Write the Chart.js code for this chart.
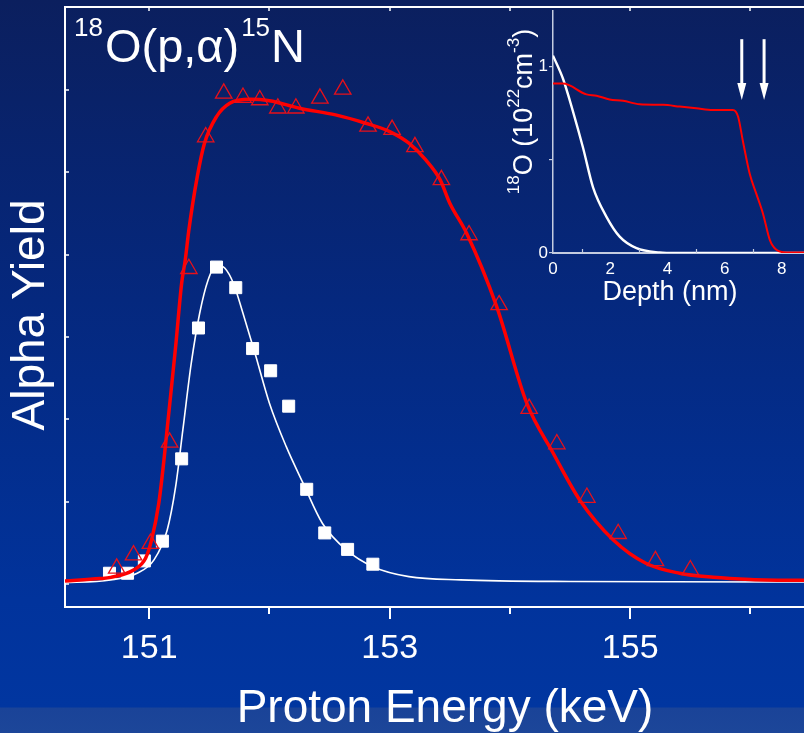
<!DOCTYPE html>
<html>
<head>
<meta charset="utf-8">
<title>18O(p,α)15N alpha yield</title>
<script src="https://cdn.jsdelivr.net/npm/chart.js@4.4.0/dist/chart.umd.min.js"></script>
<style>
  html, body { margin: 0; padding: 0; overflow: hidden; }
  #wrap {
    position: relative; width: 804px; height: 733px; overflow: hidden;
    background: linear-gradient(to bottom, #0b1f5e 0px, #05287e 300px, #01339c 600px, #0136a0 707px, #1a4398 708px, #1c4699 733px);
  }
  #mainChart { position: absolute; left: 0; top: 0; }
  #insetChart { position: absolute; left: 480px; top: 0; }
</style>
</head>
<body>
<div id="wrap">
  <canvas id="mainChart" width="825" height="733"></canvas>
  <canvas id="insetChart" width="345" height="320"></canvas>
</div>
<script>
// ---- main panel data (proton energy in keV, alpha yield in arb. units) ----
const triangleE = [150.73, 150.87, 151.01, 151.17, 151.33, 151.47, 151.62, 151.78, 151.92, 152.07, 152.22, 152.42, 152.61,
                   152.82, 153.02, 153.21, 153.43, 153.66, 153.91, 154.16, 154.39, 154.64, 154.90, 155.21, 155.50];
const triangleY = [0.19, 0.35, 0.49, 1.72, 3.83, 5.43, 5.96, 5.91, 5.88, 5.78, 5.78, 5.90, 6.01,
                   5.56, 5.52, 5.31, 4.91, 4.24, 3.39, 2.13, 1.70, 1.05, 0.61, 0.28, 0.17];

const squareE = [150.67, 150.82, 150.96, 151.11, 151.27, 151.41, 151.56, 151.72, 151.86, 152.01, 152.16, 152.31, 152.46, 152.65, 152.86];
const squareY = [0.13, 0.13, 0.28, 0.52, 1.52, 3.11, 3.85, 3.60, 2.86, 2.59, 2.16, 1.15, 0.62, 0.42, 0.24];

const redCurveE = [150.30, 150.59, 150.68, 150.87, 150.97, 151.02, 151.08, 151.12, 151.16, 151.22, 151.27, 151.30, 151.33,
                   151.40, 151.46, 151.56, 151.67, 151.84, 152.00, 152.25, 152.55, 152.80, 153.00, 153.16, 153.30, 153.42,
                   153.50, 153.64, 153.89, 154.14, 154.36, 154.58, 154.86, 155.13, 155.41, 155.69, 156.00, 156.62];
const redCurveY = [0.036, 0.065, 0.080, 0.170, 0.312, 0.535, 0.981, 1.467, 2.033, 2.883, 3.654, 3.937, 4.301,
                   4.949, 5.355, 5.678, 5.841, 5.889, 5.872, 5.780, 5.699, 5.598, 5.496, 5.355, 5.152, 4.909,
                   4.626, 4.261, 3.369, 2.196, 1.588, 1.021, 0.535, 0.252, 0.130, 0.081, 0.055, 0.040];

const whiteCurveE = [150.26, 150.68, 150.90, 151.04, 151.15, 151.22, 151.28, 151.35, 151.42, 151.49, 151.56, 151.63, 151.70,
                     151.78, 151.88, 152.00, 152.14, 152.28, 152.44, 152.64, 152.86, 153.16, 153.59, 154.50, 156.62];
const whiteCurveY = [0.016, 0.049, 0.130, 0.292, 0.656, 1.182, 1.871, 2.682, 3.289, 3.694, 3.876, 3.836, 3.654,
                     3.289, 2.803, 2.196, 1.668, 1.224, 0.738, 0.413, 0.210, 0.089, 0.049, 0.030, 0.024];

const majorTicksE = [151, 153, 155];
const minorTicksE = [152, 154, 156];
const topTicksE = [151, 152, 153, 154, 155, 156];
const leftTicksY = [0, 1, 2, 3, 4, 5, 6];

// ---- inset data (depth in nm, 18O concentration in 1e22 cm^-3) ----
const insetRedDepth = [0, 0.35, 1.17, 1.52, 1.98, 2.45, 3.03, 3.85, 4.43, 5.01, 5.59, 6.29, 6.47, 6.64, 6.88, 7.11, 7.34, 7.58, 7.81, 8.16, 9.5];
const insetRedConc  = [0.908, 0.908, 0.850, 0.843, 0.823, 0.816, 0.797, 0.794, 0.785, 0.776, 0.767, 0.767, 0.732, 0.599, 0.423, 0.317, 0.212, 0.070, 0.017, 0.003, 0.003];
const insetWhiteDepth = [0, 0.35, 0.70, 1.05, 1.40, 1.87, 2.33, 2.92, 3.73, 4.3, 9.5];
const insetWhiteConc  = [1.058, 0.934, 0.758, 0.564, 0.352, 0.194, 0.088, 0.026, 0.003, 0, 0];
const insetXTicks = [0, 2, 4, 6, 8];
const insetXMinor = [1, 3, 5, 7];
const insetYTicks = [0, 0.5, 1];
const arrowDepths = [6.6, 7.38];
const arrowFrom = 1.146, arrowTo = 0.82;

const fontFamily = '"Liberation Sans", Arial, Helvetica, sans-serif';
Chart.defaults.font.family = fontFamily;
Chart.defaults.color = '#ffffff';

const toPoints = (xs, ys) => xs.map((x, i) => ({ x: x, y: ys[i] }));

// draws text with superscript pieces, left or center aligned
function drawRich(ctx, parts, x, y, size, supSize, rise, align) {
    const widthOf = p => {
        ctx.font = (p.sup ? supSize : size) + 'px ' + fontFamily;
        return ctx.measureText(p.t).width + (p.gap || 0);
    };
    const total = parts.reduce((s, p) => s + widthOf(p), 0);
    let cx = align === 'center' ? x - total / 2 : x;
    ctx.textAlign = 'left';
    ctx.textBaseline = 'alphabetic';
    parts.forEach(p => {
        const w = widthOf(p);
        ctx.fillText(p.t, cx, p.sup ? y - rise : y);
        cx += w;
    });
}

function tick(ctx, x1, y1, x2, y2) {
    ctx.beginPath();
    ctx.moveTo(x1, y1);
    ctx.lineTo(x2, y2);
    ctx.stroke();
}

const mainDecor = {
    id: 'mainDecor',
    afterDraw(chart) {
        const { ctx, chartArea: a, scales: { x, y } } = chart;
        ctx.save();
        ctx.strokeStyle = '#ffffff';
        ctx.lineWidth = 2;
        minorTicksE.forEach(v => {
            const px = Math.round(x.getPixelForValue(v));
            tick(ctx, px, a.bottom, px, a.bottom + 7);
        });
        ctx.lineWidth = 1.5;
        topTicksE.forEach(v => {
            const px = Math.round(x.getPixelForValue(v));
            tick(ctx, px, a.top, px, a.top + 4);
        });
        leftTicksY.forEach(v => {
            const py = Math.round(y.getPixelForValue(v));
            tick(ctx, a.left, py, a.left + 4, py);
        });

        ctx.fillStyle = '#ffffff';
        drawRich(ctx, [{ t: '18', sup: true, gap: 2 }, { t: 'O(p,α)', gap: 2 }, { t: '15', sup: true, gap: 1 }, { t: 'N' }],
                 74, 62, 47, 26, 26, 'left');

        ctx.font = '46px ' + fontFamily;
        ctx.textAlign = 'center';
        ctx.textBaseline = 'alphabetic';
        ctx.fillText('Proton Energy (keV)', 445, 722);

        ctx.translate(44, 315);
        ctx.rotate(-Math.PI / 2);
        ctx.fillText('Alpha Yield', 0, 0);
        ctx.restore();
    }
};

new Chart(document.getElementById('mainChart'), {
    type: 'scatter',
    data: {
        datasets: [
            {
                label: 'Triangles',
                data: toPoints(triangleE, triangleY),
                pointStyle: 'triangle',
                pointRadius: 9.5,
                pointBorderWidth: 1.3,
                pointBorderColor: '#e8101a',
                pointBackgroundColor: 'rgba(0,0,0,0)',
                order: 0
            },
            {
                label: 'Red fit',
                data: toPoints(redCurveE, redCurveY),
                showLine: true,
                borderColor: '#ff0000',
                borderWidth: 3.5,
                pointRadius: 0,
                cubicInterpolationMode: 'monotone',
                order: 1
            },
            {
                label: 'Squares',
                data: toPoints(squareE, squareY),
                pointStyle: 'rect',
                pointRadius: 8.5,
                pointBorderWidth: 1,
                pointBorderColor: '#ffffff',
                pointBackgroundColor: '#ffffff',
                order: 2
            },
            {
                label: 'White fit',
                data: toPoints(whiteCurveE, whiteCurveY),
                showLine: true,
                borderColor: '#ffffff',
                borderWidth: 1.6,
                pointRadius: 0,
                cubicInterpolationMode: 'monotone',
                order: 3
            }
        ]
    },
    options: {
        responsive: false,
        animation: false,
        events: [],
        layout: { padding: 0, autoPadding: false },
        plugins: { legend: { display: false }, tooltip: { enabled: false } },
        scales: {
            x: {
                type: 'linear',
                position: 'bottom',
                min: 150.3,
                max: 156.62,
                afterBuildTicks: scale => { scale.ticks = majorTicksE.map(v => ({ value: v })); },
                afterFit: scale => { scale.height = 126; },
                ticks: { autoSkip: false, maxRotation: 0, padding: 9, color: '#ffffff', font: { size: 34 } },
                grid: { drawOnChartArea: false, drawTicks: true, tickLength: 12, color: '#ffffff', lineWidth: 2 },
                border: { display: true, color: '#ffffff', width: 2 }
            },
            xTop: {
                type: 'linear',
                position: 'top',
                min: 150.3,
                max: 156.62,
                afterFit: scale => { scale.height = 7; },
                ticks: { display: false },
                grid: { drawOnChartArea: false, drawTicks: false },
                border: { display: true, color: '#ffffff', width: 2 }
            },
            y: {
                type: 'linear',
                position: 'left',
                min: -0.28,
                max: 7.01,
                afterFit: scale => { scale.width = 65; },
                ticks: { display: false },
                grid: { drawOnChartArea: false, drawTicks: false },
                border: { display: true, color: '#ffffff', width: 2 }
            }
        }
    },
    plugins: [mainDecor]
});

const insetDecor = {
    id: 'insetDecor',
    afterDraw(chart) {
        const { ctx, chartArea: a, scales: { x, y } } = chart;
        ctx.save();
        ctx.strokeStyle = '#c4cce0';
        ctx.lineWidth = 1.2;
        insetXMinor.forEach(v => {
            const px = Math.round(x.getPixelForValue(v)) + 0.5;
            tick(ctx, px, a.bottom, px, a.bottom - 4);
        });

        // marker arrows
        ctx.strokeStyle = '#ffffff';
        ctx.fillStyle = '#ffffff';
        arrowDepths.forEach(d => {
            const px = x.getPixelForValue(d);
            const yTop = y.getPixelForValue(arrowFrom);
            const yTip = y.getPixelForValue(arrowTo);
            ctx.lineWidth = 3;
            tick(ctx, px, yTop, px, yTip - 14);
            ctx.beginPath();
            ctx.moveTo(px - 4.5, yTip - 17);
            ctx.lineTo(px + 4.5, yTip - 17);
            ctx.lineTo(px, yTip);
            ctx.closePath();
            ctx.fill();
        });

        ctx.font = '27px ' + fontFamily;
        ctx.textAlign = 'center';
        ctx.textBaseline = 'alphabetic';
        ctx.fillText('Depth (nm)', 190, 300);

        ctx.translate(52, 111.5);
        ctx.rotate(-Math.PI / 2);
        drawRich(ctx, [{ t: '18', sup: true }, { t: 'O (10' }, { t: '22', sup: true }, { t: 'cm' }, { t: '-3', sup: true }, { t: ')' }],
                 0, 0, 27, 17, 13, 'center');
        ctx.restore();
    }
};

new Chart(document.getElementById('insetChart'), {
    type: 'scatter',
    data: {
        datasets: [
            {
                label: 'Red profile',
                data: toPoints(insetRedDepth, insetRedConc),
                showLine: true,
                borderColor: '#ff0000',
                borderWidth: 2,
                pointRadius: 0,
                cubicInterpolationMode: 'monotone',
                order: 0
            },
            {
                label: 'White profile',
                data: toPoints(insetWhiteDepth, insetWhiteConc),
                showLine: true,
                borderColor: '#ffffff',
                borderWidth: 2.4,
                pointRadius: 0,
                cubicInterpolationMode: 'monotone',
                order: 1
            }
        ]
    },
    options: {
        responsive: false,
        animation: false,
        events: [],
        layout: { padding: { top: 8, left: 0, right: 0, bottom: 0 }, autoPadding: false },
        plugins: { legend: { display: false }, tooltip: { enabled: false } },
        scales: {
            x: {
                type: 'linear',
                position: 'bottom',
                min: 0,
                max: 9.51,
                afterBuildTicks: scale => { scale.ticks = insetXTicks.map(v => ({ value: v })); },
                afterFit: scale => { scale.height = 67; },
                ticks: { autoSkip: false, maxRotation: 0, padding: 6, color: '#ffffff', font: { size: 17 } },
                grid: { drawOnChartArea: false, drawTicks: false },
                border: { display: true, color: '#c4cce0', width: 2 }
            },
            y: {
                type: 'linear',
                position: 'left',
                min: 0,
                max: 1.296,
                afterBuildTicks: scale => { scale.ticks = insetYTicks.map(v => ({ value: v })); },
                afterFit: scale => { scale.width = 73; },
                ticks: {
                    autoSkip: false, padding: 1, color: '#ffffff', font: { size: 17 },
                    callback: v => (v === 0 || v === 1) ? String(v) : ''
                },
                grid: { drawOnChartArea: false, drawTicks: true, tickLength: 4, color: '#c4cce0', lineWidth: 1.2 },
                border: { display: true, color: '#c4cce0', width: 1.5 }
            }
        }
    },
    plugins: [insetDecor]
});
</script>
</body>
</html>
